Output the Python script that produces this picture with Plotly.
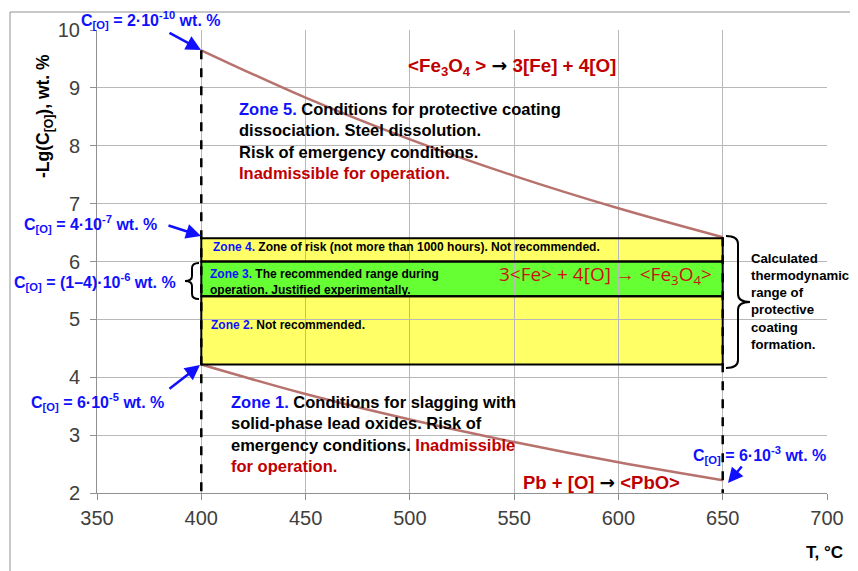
import plotly.graph_objects as go

# ---------------- data ----------------
T = [400, 450, 500, 550, 600, 650]
fe3o4_boundary = [9.65, 8.83, 8.11, 7.48, 6.92, 6.42]   # <Fe3O4> -> 3[Fe] + 4[O]
pbo_boundary = [4.22, 3.71, 3.27, 2.88, 2.53, 2.22]     # Pb + [O] -> <PbO>
zone_T = [400, 650]
zone4 = [6.0, 6.4]
zone3 = [5.4, 6.0]
zone2 = [4.22, 5.4]
x_ticks = [350, 400, 450, 500, 550, 600, 650, 700]
y_ticks = [2, 3, 4, 5, 6, 7, 8, 9, 10]

# ---------------- layout constants (window pixel coords) ----------------
OFF = 8                      # page body margin
W, H = 858 - OFF, 571 - OFF
L, R, TOP, B = 97, 827, 30, 493
XR = [350, 700]
YR = [2, 10]
FONT = "Liberation Sans, Arial, sans-serif"
BLUE = "#1010FF"
RED = "#C00000"


def tx(px):
    return XR[0] + (px - L) / (R - L) * (XR[1] - XR[0])


def ty(py):
    return YR[1] - (py - TOP) / (B - TOP) * (YR[1] - YR[0])


def px2p(px):
    return (px - L) / (R - L)


def py2p(py):
    return (B - py) / (B - TOP)


fig = go.Figure()
for ys in (fe3o4_boundary, pbo_boundary):
    fig.add_trace(go.Scatter(x=T, y=ys, mode="lines",
                             line=dict(color="#B8726E", width=2.5, shape="spline"),
                             hoverinfo="skip", showlegend=False))

shapes = []
for rng, col in [(zone2, "#FFFF66"), (zone4, "#FFFF66"), (zone3, "#66FF33")]:
    shapes.append(dict(type="rect", xref="x", yref="y", x0=zone_T[0], x1=zone_T[1],
                       y0=rng[0], y1=rng[1], fillcolor=col, line=dict(width=0),
                       layer="below"))
for rng in [zone2, zone4, zone3]:
    shapes.append(dict(type="rect", xref="x", yref="y", x0=zone_T[0], x1=zone_T[1],
                       y0=rng[0], y1=rng[1], line=dict(color="black", width=2),
                       layer="above"))
shapes.append(dict(type="line", xref="x", yref="y", x0=T[0], x1=T[0],
                   y0=fe3o4_boundary[0], y1=YR[0],
                   line=dict(color="black", width=2.5, dash="dash")))
shapes.append(dict(type="line", xref="x", yref="y", x0=T[-1], x1=T[-1],
                   y0=fe3o4_boundary[-1], y1=YR[0],
                   line=dict(color="black", width=2.5, dash="dash")))


def brace(x0, top, bot, tip, hook, r):
    mid = (top + bot) / 2
    pts = [
        ("M", [(hook, top)]),
        ("Q", [(x0, top), (x0, top + r)]),
        ("L", [(x0, mid - r)]),
        ("Q", [(x0, mid), (tip, mid)]),
        ("Q", [(x0, mid), (x0, mid + r)]),
        ("L", [(x0, bot - r)]),
        ("Q", [(x0, bot), (hook, bot)]),
    ]
    path = ""
    for cmd, ps in pts:
        path += cmd + " " + " ".join(f"{tx(px):.4f},{ty(py):.4f}" for px, py in ps) + " "
    return dict(type="path", xref="x", yref="y", path=path,
                line=dict(color="black", width=2), layer="above")


shapes.append(brace(738, 236, 368, 750, 726, 8))
shapes.append(brace(192, 263, 299, 185, 199, 5))

# outer frame (left + top edges visible)
shapes.append(dict(type="line", xref="paper", yref="paper",
                   x0=px2p(10), x1=px2p(10), y0=py2p(12), y1=py2p(620),
                   line=dict(color="#909090", width=1)))
shapes.append(dict(type="line", xref="paper", yref="paper",
                   x0=px2p(10), x1=px2p(900), y0=py2p(12), y1=py2p(12),
                   line=dict(color="#909090", width=1)))

annotations = []


def text(px, py, t, size, xanchor="left", yanchor="middle", color="black", bold=True,
         align="left", family=FONT, angle=0):
    annotations.append(dict(x=px2p(px), y=py2p(py), xref="paper", yref="paper",
                            text=(f"<b>{t}</b>" if bold else t), showarrow=False,
                            xanchor=xanchor, yanchor=yanchor, align=align,
                            textangle=angle, borderpad=0,
                            font=dict(family=family, size=size, color=color)))


def arrow(tail, head, color=BLUE):
    annotations.append(dict(x=px2p(head[0]), y=py2p(head[1]), xref="paper", yref="paper",
                            ax=tail[0] - head[0], ay=tail[1] - head[1],
                            text="", showarrow=True, arrowhead=2, arrowsize=1.2,
                            arrowwidth=2.5, arrowcolor=color, standoff=0))


CO = "C<sub>[O]</sub>"
text(80, 20, f"{CO} = 2·10<sup>-10</sup> wt. %", 16, color=BLUE)
arrow((168, 32), (201, 50))
text(23, 224, f"{CO} = 4·10<sup>-7</sup> wt. %", 16, color=BLUE)
arrow((167, 225), (201, 236))
text(13, 282, f"{CO} = (1–4)·10<sup>-6</sup> wt. %", 16, color=BLUE)
text(30, 402, f"{CO} = 6·10<sup>-5</sup> wt. %", 16, color=BLUE)
arrow((168, 390), (200, 365))
text(692, 455, f"{CO} = 6·10<sup>-3</sup> wt. %", 16, color=BLUE)
arrow((743, 465), (728, 483))

blk = "<span style='color:black;font-family:DejaVu Sans'>→</span>"
text(407, 67, f"&lt;Fe<sub>3</sub>O<sub>4</sub> &gt; {blk} 3[Fe] + 4[O]", 18.8, color=RED)
text(498, 275, "3&lt;Fe&gt; + 4[O] → &lt;Fe<sub>3</sub>O<sub>4</sub>&gt;", 19,
     color="#D01010", bold=False, family="Open Sans, sans-serif")
text(522, 482, f"Pb + [O] {blk} &lt;PbO&gt;", 18.5, color=RED)

zb = lambda n: f"<span style='color:{BLUE}'>Zone {n}.</span>"
rd = lambda s: f"<span style='color:{RED}'>{s}</span>"
text(238, 99, f"{zb(5)} Conditions for protective coating<br>dissociation. Steel dissolution."
     f"<br>Risk of emergency conditions.<br>{rd('Inadmissible for operation.')}",
     16.5, yanchor="top")
text(230, 392, f"{zb(1)} Conditions for slagging with<br>solid-phase lead oxides. Risk of"
     f"<br>emergency conditions. {rd('Inadmissible')}<br>{rd('for operation.')}",
     16.5, yanchor="top")
text(212, 247, f"{zb(4)} Zone of risk (not more than 1000 hours). Not recommended.", 12)
text(209, 282, f"{zb(3)} The recommended range during<br>operation. Justified experimentally.",
     12)
text(210, 325, f"{zb(2)} Not recommended.", 12)
text(750, 301, "Calculated<br>thermodynamic<br>range of<br>protective<br>coating<br>formation.",
     13.2)

# axis titles
text(45, 116, "-Lg(C<sub>[O]</sub>), wt. %", 17.5, xanchor="center", angle=-90)
text(824, 552, "T, °C", 17, xanchor="center")

fig.update_layout(
    width=W, height=H,
    margin=dict(l=L - OFF, r=W - (R - OFF), t=TOP - OFF, b=H - (B - OFF), pad=0),
    paper_bgcolor="white", plot_bgcolor="white",
    shapes=shapes, annotations=annotations,
    font=dict(family=FONT, size=20, color="#404040"),
    xaxis=dict(range=XR, tickvals=x_ticks, showgrid=True, gridcolor="#B8B8B8",
               gridwidth=1, zeroline=False, showline=True, linecolor="#909090",
               ticks="outside", ticklen=6, tickcolor="#909090", automargin=False,
               tickfont=dict(size=20, color="#404040"), ticklabelstandoff=1),
    yaxis=dict(range=YR, tickvals=y_ticks, showgrid=True, gridcolor="#B8B8B8",
               gridwidth=1, zeroline=False, showline=True, linecolor="#909090",
               ticks="outside", ticklen=6, tickcolor="#909090", automargin=False,
               tickfont=dict(size=20, color="#404040"), ticklabelstandoff=6),
)

fig.write_html("out.html")
